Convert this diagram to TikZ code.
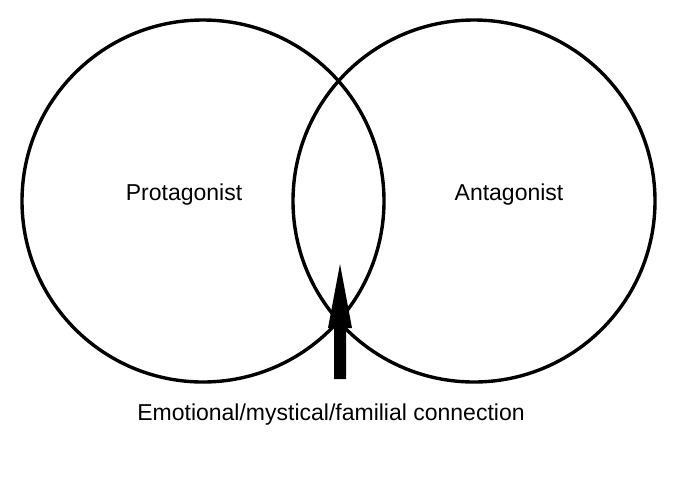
\documentclass[tikz,border=0pt]{standalone}
\usepackage{fontspec}
\setmainfont{Liberation Sans}
\begin{document}
\begin{tikzpicture}[x=1pt,y=-1pt,
  circ/.style={draw,line width=3.4pt,circle,minimum size=362pt,inner sep=0pt},
  lbl/.style={font=\fontsize{23}{27}\selectfont}]
\useasboundingbox (0,0) rectangle (688,480);
\node[circ] (L) at (203,201) {};
\node[circ] (R) at (474,201) {};
\node[lbl] (pt) at (184,195) {Protagonist};
\node[lbl] (an) at (509,195) {Antagonist};
\node[lbl] (cn) at (331,415) {Emotional/mystical/familial connection};
\coordinate (a1) at (340,264);
\fill (334,379) -- (334,328) -- (328,328) -- (a1) -- (352,328) -- (346,328) -- (346,379) -- cycle;
\end{tikzpicture}
\end{document}
